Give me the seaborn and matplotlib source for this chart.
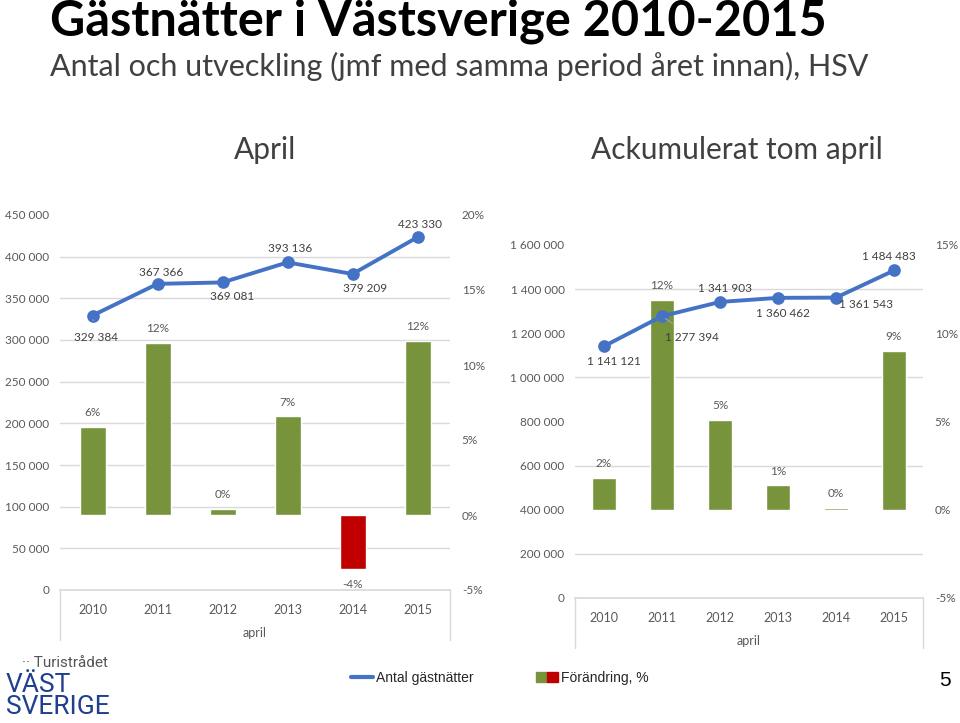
import numpy as np
import pandas as pd
import matplotlib.pyplot as plt
import seaborn as sns
from matplotlib.lines import Line2D
from matplotlib.patches import Patch
from matplotlib.legend_handler import HandlerTuple

# ====== Data ======
years = ["2010", "2011", "2012", "2013", "2014", "2015"]
april_nights = [329384, 367366, 369081, 393136, 379209, 423330]
april_change = [5.9, 11.5, 0.4, 6.6, -3.6, 11.6]
acc_nights = [1141121, 1277394, 1341903, 1360462, 1361543, 1484483]
acc_change = [1.8, 11.9, 5.1, 1.4, 0.1, 9.0]

GREEN = "#77933C"
RED = "#C00000"
BLUE = "#4472C4"
GRID = "#D9D9D9"
TICK = "#595959"
FS = 8.5

sns.set_theme(style="white")
plt.rcParams['font.family'] = ['Lato', 'DejaVu Sans']

fig = plt.figure(figsize=(9.6, 7.23), dpi=100)


def fmt_int(v):
    return f"{v:,}".replace(",", " ")


def panel(rect, nights, change, n_top, n_step, p_lo, p_hi, line_offs, leader):
    ax_bar = fig.add_axes(rect)
    ax_line = ax_bar.twinx()
    df = pd.DataFrame({"year": years, "nights": nights, "change": change})
    palette = [GREEN if c >= 0 else RED for c in change]

    sns.barplot(data=df, x="year", y="change", hue="year", palette=palette,
                width=0.4, legend=False, ax=ax_bar, saturation=1, zorder=2)
    sns.pointplot(data=df, x="year", y="nights", color=BLUE, markers="o",
                  markersize=7, linewidth=2.8, ax=ax_line, zorder=5)

    ax_bar.set_ylim(p_lo, p_hi)
    ax_line.set_ylim(0, n_top)
    ax_bar.set_xlim(-0.5, len(years) - 0.5)

    # gridlines at count ticks, drawn behind the bars
    n_ticks = np.arange(0, n_top + 1, n_step)
    ax_bar.set_yticks(p_lo + (p_hi - p_lo) * n_ticks / n_top, minor=True)
    ax_bar.grid(which="minor", axis="y", color=GRID, lw=1)
    ax_bar.grid(which="major", visible=False)
    ax_bar.set_axisbelow(True)

    # axis sides: counts left, percent right
    ax_line.yaxis.tick_left()
    ax_bar.yaxis.tick_right()
    ax_line.set_yticks(n_ticks)
    ax_line.set_yticklabels([fmt_int(int(t)) for t in n_ticks], color=TICK, fontsize=FS)
    p_ticks = np.arange(p_lo, p_hi + 0.1, 5)
    ax_bar.set_yticks(p_ticks)
    ax_bar.set_yticklabels([f"{int(t)}%" for t in p_ticks], color=TICK, fontsize=FS)
    ax_bar.tick_params(axis="y", which="both", length=0, pad=8.5)
    ax_line.tick_params(axis="y", length=0, pad=7.5)
    ax_bar.tick_params(axis="x", length=0, pad=10, labelsize=FS + 0.5, labelcolor=TICK)
    ax_line.tick_params(axis="x", length=0)

    for a in (ax_bar, ax_line):
        a.set_xlabel("")
        a.set_ylabel("")
        for s in a.spines.values():
            s.set_visible(False)
    ax_bar.spines["bottom"].set_visible(True)
    ax_bar.spines["bottom"].set_color(GRID)
    ax_bar.spines["bottom"].set_position(("data", p_lo))

    # multi-level category box
    h = rect[3] * 723
    for xx in (0, 1):
        ax_bar.plot([xx, xx], [0, -50 / h], transform=ax_bar.transAxes,
                    color=GRID, lw=1, clip_on=False)
    ax_bar.text(0.5, -43 / h, "april", transform=ax_bar.transAxes,
                ha="center", va="center", fontsize=FS + 0.5, color=TICK)

    # bar labels
    for i, c in enumerate(change):
        off = 14 if c >= 0 else -15
        ax_bar.annotate(f"{c:.0f}%", (i, c), xytext=(0, off), textcoords="offset pixels",
                        ha="center", va="center", fontsize=FS, color=TICK)

    # line labels
    for i, (v, (dx, dy)) in enumerate(zip(nights, line_offs)):
        kw = {}
        if i in leader:
            kw["arrowprops"] = dict(arrowstyle="-", color="#A6A6A6", lw=0.8,
                                    shrinkA=6, shrinkB=3)
        ax_line.annotate(fmt_int(v), (i, v), xytext=(dx, dy), textcoords="offset pixels",
                         ha="center", va="center", fontsize=FS, color="#404040",
                         zorder=6, **kw)

    ax_line.set_zorder(ax_bar.get_zorder() + 1)
    ax_line.patch.set_visible(False)
    return ax_bar, ax_line


panel([60 / 960, 1 - 590 / 723, 390 / 960, 375 / 723],
      april_nights, april_change, 450000, 50000, -5, 20,
      [(3, -22), (4, 11), (10, -14), (3, 14), (13, -15), (3, 13)], leader=[0])
panel([575 / 960, 1 - 598 / 723, 348 / 960, 353 / 723],
      acc_nights, acc_change, 1600000, 200000, -5, 15,
      [(10, -15), (30, -21), (5, 13), (5, -16), (30, -7), (-5, 14)], leader=[1])

# ====== Titles ======
fig.text(50 / 960, 1 - 36 / 723, "Gästnätter i Västsverige 2010-2015",
         fontsize=35, fontweight="bold", color="black", va="baseline", ha="left")
fig.text(50 / 960, 1 - 76 / 723, "Antal och utveckling (jmf med samma period året innan), HSV",
         fontsize=22, color="#404040", va="baseline", ha="left")
fig.text(265 / 960, 1 - 150 / 723, "April", fontsize=21.5, color="#404040",
         va="center", ha="center")
fig.text(737 / 960, 1 - 150 / 723, "Ackumulerat tom april", fontsize=21.5,
         color="#404040", va="center", ha="center")

# ====== Legend ======
handles = [Line2D([], [], color=BLUE, lw=3),
           (Patch(color=GREEN), Patch(color=RED))]
fig.legend(handles, ["Antal gästnätter", "Förändring, %"], ncol=2,
           loc="center", bbox_to_anchor=(500 / 960, 1 - 678 / 723), frameon=False,
           handler_map={tuple: HandlerTuple(ndivide=None, pad=0)},
           handlelength=1.6, handletextpad=0.2, columnspacing=4.5,
           prop={"family": "Liberation Sans", "size": 10})

# ====== Logo and page number ======
fig.text(22 / 960, 1 - 663 / 723, "·· Turistrådet", fontsize=11, color="#555555",
         va="center", family="Roboto")
fig.text(6 / 960, 1 - 696 / 723, "VÄST\nSVERIGE", fontsize=19, color="#1F3F8F",
         va="center", family="Roboto", linespacing=0.85)
fig.text(945 / 960, 1 - 680 / 723, "5", fontsize=15, color="black",
         va="center", ha="center", family="Liberation Sans")

fig.savefig("out.png", dpi=100)
